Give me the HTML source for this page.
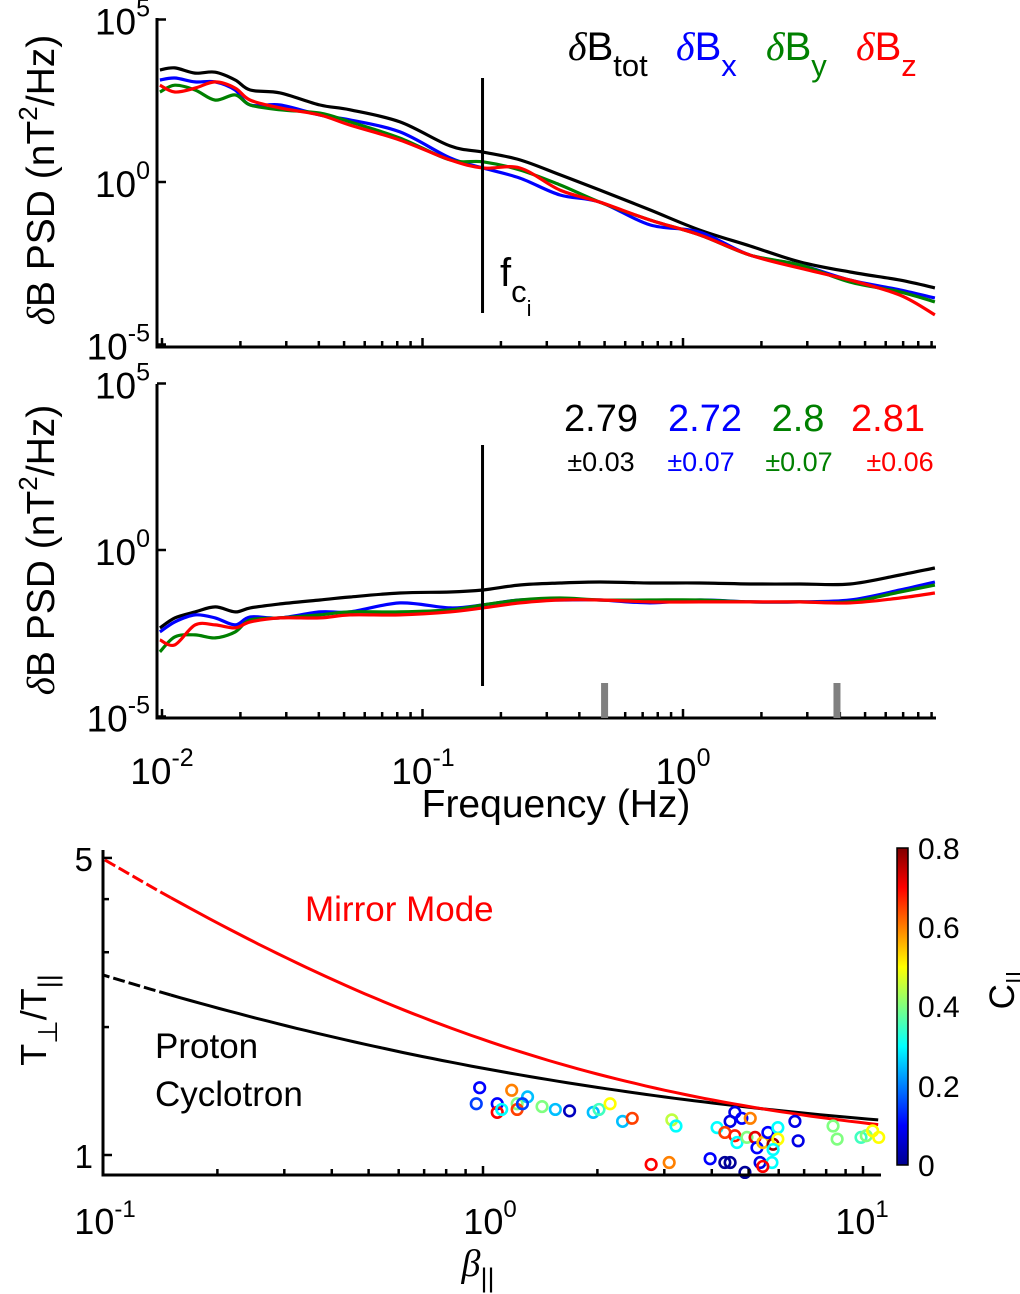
<!DOCTYPE html>
<html><head><meta charset="utf-8">
<style>
html,body{margin:0;padding:0;background:#fff;}
body{position:relative;}
svg{display:block;font-family:"Liberation Sans",sans-serif;position:absolute;left:0;top:0;}
</style></head>
<body>
<svg id="fig" width="1020" height="1294" viewBox="0 0 1020 1294">
</svg>
<script>
// ---- PSD data (frequency in Hz, log10 PSD in nT^2/Hz) ----
const freqs = [0.00982,0.0112,0.0134,0.016,0.0191,0.0218,0.0284,0.0404,0.0527,0.082,0.1275,0.1707,0.2366,0.3373,0.48,0.747,1.16,1.81,2.81,4.38,6.81,9.27];
const p1Tot = [3.45,3.51,3.35,3.38,3.14,2.83,2.74,2.37,2.22,1.85,1.11,0.92,0.68,0.22,-0.25,-0.86,-1.48,-1.97,-2.46,-2.77,-3.02,-3.26];
const p1X = [3.14,3.2,3.08,3.08,2.83,2.37,2.37,2.06,1.91,1.54,0.74,0.43,0.12,-0.4,-0.62,-1.32,-1.54,-2.25,-2.55,-3.02,-3.32,-3.57];
const p1Y = [2.77,2.98,2.83,2.52,2.68,2.37,2.22,2.12,1.85,1.35,0.68,0.62,0.37,-0.09,-0.62,-1.17,-1.63,-2.25,-2.55,-3.08,-3.38,-3.69];
const p1Z = [2.98,2.77,2.89,3.08,2.89,2.52,2.28,2.06,1.75,1.29,0.68,0.43,0.43,-0.25,-0.62,-1.17,-1.63,-2.25,-2.65,-3.02,-3.48,-4.09];
const p2Tot = [-2.34,-2.04,-1.86,-1.71,-1.86,-1.74,-1.62,-1.5,-1.41,-1.29,-1.26,-1.2,-1.05,-0.99,-0.96,-0.99,-0.99,-1.02,-1.02,-1.02,-0.75,-0.54];
const p2X = [-2.46,-2.16,-1.95,-2.04,-2.25,-2.01,-2.04,-1.86,-1.86,-1.59,-1.74,-1.65,-1.5,-1.5,-1.5,-1.59,-1.5,-1.56,-1.56,-1.5,-1.2,-0.96];
const p2Y = [-3.06,-2.61,-2.55,-2.64,-2.46,-2.1,-2.04,-1.95,-1.86,-1.86,-1.8,-1.65,-1.5,-1.44,-1.5,-1.5,-1.5,-1.56,-1.56,-1.56,-1.26,-1.05];
const p2Z = [-2.7,-2.85,-2.25,-2.25,-2.34,-2.16,-2.04,-2.04,-1.95,-1.95,-1.86,-1.74,-1.59,-1.5,-1.5,-1.56,-1.56,-1.56,-1.56,-1.59,-1.44,-1.29];
const fci = 0.17;
const fitBands = [0.5, 3.9];
// ---- threshold curves T = 1 + a / beta^b  ([a,b]) ----
const mirrorParams = [0.87,0.66];
const cyclotronParams = [0.6,0.44];
// ---- scatter (beta, Tperp/Tpar, C||) ----
const betaVals = [0.98,0.96,1.09,1.09,1.12,1.19,1.23,1.23,1.31,1.27,1.43,1.55,1.69,1.95,2.02,2.16,2.33,2.47,3.14,3.22,2.77,3.09,3.96,4.33,4.47,4.89,4.13,4.6,4.47,4.8,5.05,4.33,4.6,4.66,4.95,5.2,5.26,5.45,5.62,5.8,5.97,5.97,5.8,5.36,5.76,5.45,6.62,6.75,8.34,8.55,9.88,10.2,10.6,11.0];
const anisoVals = [1.44,1.32,1.32,1.26,1.28,1.42,1.32,1.28,1.37,1.32,1.30,1.28,1.27,1.26,1.28,1.32,1.20,1.22,1.21,1.17,0.95,0.96,0.98,0.96,0.96,0.91,1.16,1.26,1.20,1.22,1.22,1.13,1.11,1.07,1.10,1.10,1.04,1.07,1.13,1.06,1.16,1.09,1.03,0.96,0.96,0.94,1.20,1.08,1.17,1.09,1.10,1.11,1.14,1.10];
const cVals = [0.1,0.15,0.1,0.7,0.3,0.6,0.4,0.65,0.25,0.15,0.4,0.25,0.05,0.25,0.35,0.5,0.25,0.65,0.45,0.3,0.7,0.6,0.1,0.02,0.02,0.02,0.3,0.08,0.08,0.1,0.6,0.65,0.68,0.3,0.4,0.72,0.1,0.55,0.1,0.78,0.3,0.5,0.3,0.08,0.3,0.7,0.08,0.08,0.4,0.4,0.35,0.4,0.5,0.5];

const NS='http://www.w3.org/2000/svg';
const svg=document.getElementById('fig');
function mk(tag,attrs,parent){const e=document.createElementNS(NS,tag);for(const k in attrs)e.setAttribute(k,attrs[k]);(parent||svg).appendChild(e);return e;}
function smooth(pts){let d='M'+pts[0][0].toFixed(1)+','+pts[0][1].toFixed(1);for(let i=0;i<pts.length-1;i++){const p0=pts[Math.max(0,i-1)],p1=pts[i],p2=pts[i+1],p3=pts[Math.min(pts.length-1,i+2)];const c1=[p1[0]+(p2[0]-p0[0])/6,p1[1]+(p2[1]-p0[1])/6],c2=[p2[0]-(p3[0]-p1[0])/6,p2[1]-(p3[1]-p1[1])/6];d+=' C'+c1[0].toFixed(1)+','+c1[1].toFixed(1)+' '+c2[0].toFixed(1)+','+c2[1].toFixed(1)+' '+p2[0].toFixed(1)+','+p2[1].toFixed(1);}return d;}

const fx=f=>162+(Math.log10(f)+2)*260.5;
const py1=v=>182-v*32.5;
const py2=v=>550-v*33.3;
const colors=['#000','#0000ff','#008000','#ff0000'];
const names=['tot','x','y','z'];

function psdPanel(id,py,series,yTop,yBot){
  const g=mk('g',{});
  series.forEach((s,k)=>{
    const p=mk('path',{d:smooth(freqs.map((f,i)=>[fx(f),py(s[i])])),fill:'none',stroke:colors[k],'stroke-width':3.2},g);
    
    
  });
  const ax=mk('path',{d:`M157,${yTop} V${yBot} H936`,fill:'none',stroke:'#000','stroke-width':3},g);
  
  
  for(let e=-2;e<=0;e++)for(let m=1;m<=9;m++){const f=m*Math.pow(10,e);const x=fx(f);if(x<157||x>936)continue;
    const t=mk('line',{x1:x,x2:x,y1:yBot,y2:yBot-(m===1?9:6),stroke:'#000','stroke-width':2.5},g);
    }
  [5,0,-5].forEach(v=>{const y=py(v);const t=mk('line',{x1:157,x2:166,y1:y,y2:y,stroke:'#000','stroke-width':2.5},g);
    
    const tx=mk('text',{x:150,y:y+15,'font-size':37,'text-anchor':'end'},g);
    tx.innerHTML='10<tspan dy="-18" font-size="25">'+v+'</tspan>';
    });
  return g;
}
psdPanel('psd-panel-top',py1,[p1Tot,p1X,p1Y,p1Z],18,347);
psdPanel('psd-panel-bottom',py2,[p2Tot,p2X,p2Y,p2Z],384,718);

let l=mk('line',{x1:fx(fci),x2:fx(fci),y1:78,y2:313,stroke:'#000','stroke-width':3});

l=mk('line',{x1:fx(fci),x2:fx(fci),y1:445,y2:686,stroke:'#000','stroke-width':3});

fitBands.forEach(f=>{const r=mk('rect',{x:fx(f)-3.5,y:683,width:7,height:35,fill:'#808080'});
  });
</script>

<svg width="1020" height="1294" viewBox="0 0 1020 1294">
<g font-family="Liberation Sans, sans-serif">
<text x="0" y="0" transform="translate(54,180) rotate(-90)" text-anchor="middle" font-size="39"><tspan font-style="italic" font-family="Liberation Serif, serif">δ</tspan>B PSD (nT<tspan dy="-17" font-size="26">2</tspan><tspan dy="17">/Hz)</tspan></text>
<text x="0" y="0" transform="translate(54,550) rotate(-90)" text-anchor="middle" font-size="39"><tspan font-style="italic" font-family="Liberation Serif, serif">δ</tspan>B PSD (nT<tspan dy="-17" font-size="26">2</tspan><tspan dy="17">/Hz)</tspan></text>
<g font-size="40">
<text x="568" y="60" fill="#000"><tspan font-style="italic" font-family="Liberation Serif, serif">δ</tspan>B<tspan dy="16" font-size="31">tot</tspan></text>
<text x="676" y="60" fill="#0000ff"><tspan font-style="italic" font-family="Liberation Serif, serif">δ</tspan>B<tspan dy="16" font-size="31">x</tspan></text>
<text x="766" y="60" fill="#008000"><tspan font-style="italic" font-family="Liberation Serif, serif">δ</tspan>B<tspan dy="16" font-size="31">y</tspan></text>
<text x="856" y="60" fill="#ff0000"><tspan font-style="italic" font-family="Liberation Serif, serif">δ</tspan>B<tspan dy="16" font-size="31">z</tspan></text>
</g>
<text x="500" y="286" font-size="40">f<tspan dy="16" font-size="31">c</tspan><tspan dy="14" font-size="22">i</tspan></text>
<g font-size="38" text-anchor="middle">
<text x="601" y="431" fill="#000">2.79</text>
<text x="705" y="431" fill="#0000ff">2.72</text>
<text x="798" y="431" fill="#008000">2.8</text>
<text x="888" y="431" fill="#ff0000">2.81</text>
</g>
<g font-size="27" text-anchor="middle">
<text x="601" y="471" fill="#000">±0.03</text>
<text x="701" y="471" fill="#0000ff">±0.07</text>
<text x="799" y="471" fill="#008000">±0.07</text>
<text x="900" y="471" fill="#ff0000">±0.06</text>
</g>
<g font-size="37" text-anchor="middle">
<text x="162" y="784">10<tspan dy="-18" font-size="25">-2</tspan></text>
<text x="423" y="784">10<tspan dy="-18" font-size="25">-1</tspan></text>
<text x="683" y="784">10<tspan dy="-18" font-size="25">0</tspan></text>
</g>
<text x="556" y="817" font-size="39" text-anchor="middle">Frequency (Hz)</text>
<text x="305" y="921" font-size="35" fill="#ff0000">Mirror Mode</text>
<text x="155" y="1058" font-size="35">Proton</text>
<text x="155" y="1106" font-size="35">Cyclotron</text>
<text x="0" y="0" transform="translate(46,1020) rotate(-90)" text-anchor="middle" font-size="36">T<tspan dy="11" font-size="27">⊥</tspan><tspan dy="-11">/T</tspan><tspan dy="11" font-size="27">||</tspan></text>
<text x="93" y="871" font-size="33" text-anchor="end">5</text>
<text x="93" y="1168" font-size="33" text-anchor="end">1</text>
<g font-size="36" text-anchor="middle">
<text x="105" y="1234">10<tspan dy="-17" font-size="24">-1</tspan></text>
<text x="490" y="1234">10<tspan dy="-17" font-size="24">0</tspan></text>
<text x="862" y="1234">10<tspan dy="-17" font-size="24">1</tspan></text>
</g>
<text x="478" y="1276" font-size="38" text-anchor="middle"><tspan font-style="italic" font-family="Liberation Serif, serif">β</tspan><tspan dy="11" font-size="27">||</tspan></text>
<g font-size="30">
<text x="918" y="859">0.8</text>
<text x="918" y="938">0.6</text>
<text x="918" y="1017">0.4</text>
<text x="918" y="1097">0.2</text>
<text x="918" y="1176">0</text>
</g>
<text x="0" y="0" transform="translate(1014,990) rotate(-90)" text-anchor="middle" font-size="35">C<tspan dy="11" font-size="26">||</tspan></text>
</g>
<defs><linearGradient id="jet" x1="0" y1="1" x2="0" y2="0">
<stop offset="0" stop-color="#00008f"/><stop offset="0.125" stop-color="#0000ff"/><stop offset="0.375" stop-color="#00ffff"/><stop offset="0.625" stop-color="#ffff00"/><stop offset="0.875" stop-color="#ff0000"/><stop offset="1" stop-color="#800000"/>
</linearGradient></defs>
<rect x="897" y="848" width="11" height="317" fill="url(#jet)" stroke="#000" stroke-width="1.5"/>
<g id="p3"></g>
</svg>
<script>
(function(){
const g=document.getElementById('p3');
const bx=b=>103+(Math.log10(b)+1)*380;
const ty=t=>1155-Math.log10(t)*425;
function jet(c){const v=Math.max(0,Math.min(1,c/0.8));
  const r=Math.max(0,Math.min(1,Math.min(4*v-1.5,-4*v+4.5))),gg=Math.max(0,Math.min(1,Math.min(4*v-0.5,-4*v+3.5))),b=Math.max(0,Math.min(1,Math.min(4*v+0.5,-4*v+2.5)));
  return `rgb(${Math.round(r*255)},${Math.round(gg*255)},${Math.round(b*255)})`;}
function curve(params,b){return 1+params[0]/Math.pow(b,params[1]);}
function drawCurve(params,color,name){
  const dashPts=[],solidPts=[];
  for(let i=0;i<=80;i++){const b=Math.pow(10,-1+i*(2.04/80));const p=[bx(b),ty(curve(params,b))];if(b<=0.152)dashPts.push(p);if(b>=0.148)solidPts.push(p);}
  dashPts.reverse();
  const d1=mk('path',{d:'M'+dashPts.map(p=>p[0].toFixed(1)+','+p[1].toFixed(1)).join(' L'),fill:'none',stroke:color,'stroke-width':3,'stroke-dasharray':'12,4'},g);
  
  const d2=mk('path',{d:'M'+solidPts.map(p=>p[0].toFixed(1)+','+p[1].toFixed(1)).join(' L'),fill:'none',stroke:color,'stroke-width':3},g);
  
}
drawCurve(cyclotronParams,'#000','cyclotron-threshold');
drawCurve(mirrorParams,'#ff0000','mirror-threshold');
betaVals.forEach((b,i)=>{
  const c=mk('circle',{cx:bx(b),cy:ty(anisoVals[i]),r:5.3,fill:'none',stroke:jet(cVals[i]),'stroke-width':2.6},g);
  
  
});
const ax=mk('path',{d:'M103,850 V1175 H881',fill:'none',stroke:'#000','stroke-width':3},g);

for(let e=-1;e<=1;e++)for(let m=1;m<=9;m++){const b=m*Math.pow(10,e);const x=bx(b);if(x>881)continue;
  const t=mk('line',{x1:x,x2:x,y1:1175,y2:1175-(m===1?9:6),stroke:'#000','stroke-width':2.5},g);
  }
[1,2,3,4,5].forEach(v=>{const y=ty(v);const t=mk('line',{x1:103,x2:103+(v===1||v===5?9:6),y1:y,y2:y,stroke:'#000','stroke-width':2.5},g);
  });
})();
</script>
</body></html>
